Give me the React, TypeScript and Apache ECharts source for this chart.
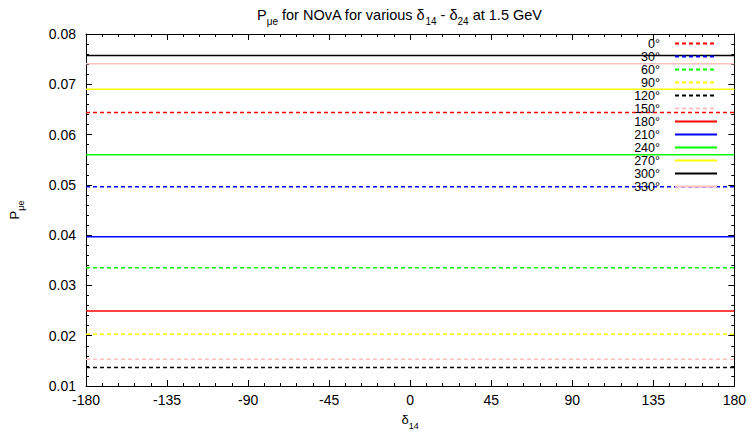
import React, { useEffect, useRef } from "react";
import * as echarts from "echarts";

const phaseLabels = ["0°", "30°", "60°", "90°", "120°", "150°", "180°", "210°", "240°", "270°", "300°", "330°"];
const probValues = [0.0644, 0.0496, 0.0335, 0.0203, 0.0137, 0.0153, 0.0249, 0.0397, 0.056, 0.069, 0.0757, 0.0741];
const lineColors = ["#ff0000", "#0000ff", "#00ff00", "#ffff00", "#000000", "#ffc0c0", "#ff0000", "#0000ff", "#00ff00", "#ffff00", "#000000", "#ffc0c0"];
const lineKinds = ["dashed", "dashed", "dashed", "dashed", "dashed", "dashed", "solid", "solid", "solid", "solid", "solid", "solid"];
const deltaRange = [-180, 180];

const FONT = "Liberation Sans, Arial, Helvetica, sans-serif";

export default function App() {
  const ref = useRef<HTMLDivElement>(null);
  useEffect(() => {
    if (!ref.current) return;
    const chart = echarts.init(ref.current, null, { renderer: "svg" });
    const sub = { fontSize: 9, verticalAlign: "bottom", padding: [0, 0, -4, 0], fontFamily: FONT, color: "#000" };
    const main = { fontSize: 13, fontFamily: FONT, color: "#000", fontWeight: "normal" };
    const titleMain = { fontSize: 14.5, fontFamily: FONT, color: "#000", fontWeight: "normal" };
    const titleSub = { fontSize: 10, verticalAlign: "bottom", padding: [0, 0, -4, 0], fontFamily: FONT, color: "#000" };
    const axisCommon = {
      axisLine: { show: true, onZero: false, lineStyle: { color: "#000", width: 1 } },
      axisTick: { show: true, inside: true, length: 6, lineStyle: { color: "#000" } },
      minorTick: { show: true, splitNumber: 5, length: 3, lineStyle: { color: "#000" } },
      splitLine: { show: false },
      minorSplitLine: { show: false },
    };
    const option: any = {
      animation: false,
      backgroundColor: "#fff",
      textStyle: { fontFamily: FONT },
      title: {
        text: "{n|P}{s|μe}{n| for NOvA for various δ}{s|14}{n| - δ}{s|24}{n| at 1.5 GeV}",
        left: 252,
        top: 2,
        textStyle: {
          fontWeight: "normal",
          rich: { n: titleMain, s: titleSub },
        },
      },
      grid: { left: 85, right: 14, top: 34, bottom: 39, containLabel: false },
      legend: {
        orient: "vertical",
        right: 31,
        top: 37,
        padding: 0,
        align: "right",
        itemWidth: 42,
        itemHeight: 12,
        itemGap: 0,
        selectedMode: false,
        itemStyle: { opacity: 0 },
        textStyle: { fontSize: 12.5, fontFamily: FONT, color: "#000", padding: [0, 10, 0, 0] },
        data: phaseLabels,
      },
      xAxis: [
        {
          type: "value",
          min: deltaRange[0],
          max: deltaRange[1],
          interval: 45,
          position: "bottom",
          name: "{d|δ}{s|14}",
          nameLocation: "middle",
          nameGap: 27,
          nameTextStyle: { rich: { d: main, s: sub } },
          axisLabel: { fontSize: 14, color: "#000", margin: 7, fontFamily: FONT },
          ...axisCommon,
        },
        {
          type: "value",
          min: deltaRange[0],
          max: deltaRange[1],
          interval: 45,
          position: "top",
          axisLabel: { show: false },
          ...axisCommon,
        },
      ],
      yAxis: [
        {
          type: "value",
          min: 0.01,
          max: 0.08,
          interval: 0.01,
          position: "left",
          name: "{n|P}{s|μe}",
          nameLocation: "middle",
          nameRotate: 90,
          nameGap: 65,
          nameTextStyle: { rich: { n: main, s: sub } },
          axisLabel: { fontSize: 14, color: "#000", margin: 10, fontFamily: FONT, formatter: (v: number) => v.toFixed(2) },
          ...axisCommon,
        },
        {
          type: "value",
          min: 0.01,
          max: 0.08,
          interval: 0.01,
          position: "right",
          axisLabel: { show: false },
          ...axisCommon,
        },
      ],
      series: phaseLabels.map((name, i) => ({
        name,
        type: "line",
        xAxisIndex: 0,
        yAxisIndex: 0,
        symbol: "none",
        color: lineColors[i],
        lineStyle: { color: lineColors[i], width: 1.5, type: lineKinds[i] === "dashed" ? [4, 3] : "solid" },
        data: deltaRange.map((x) => [x, probValues[i]]),
      })),
    };
    chart.setOption(option);
    return () => chart.dispose();
  }, []);
  return <div ref={ref} style={{ position: "fixed", left: 0, top: 0, width: 749, height: 435 }} />;
}
